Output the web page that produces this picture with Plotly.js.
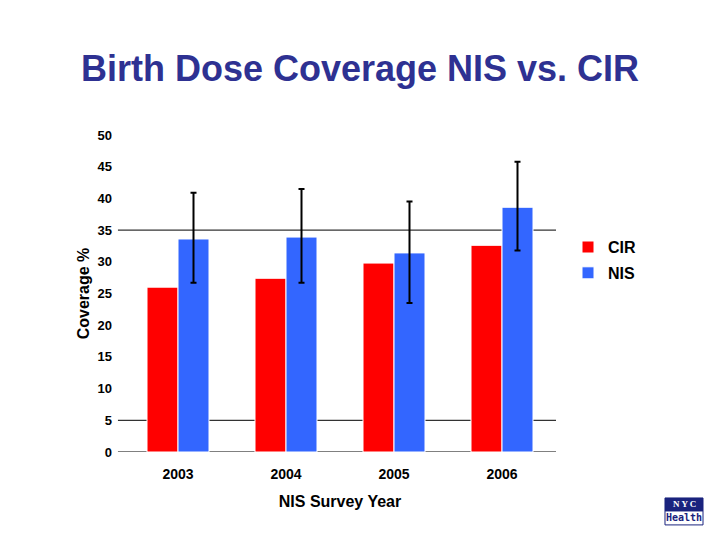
<!DOCTYPE html>
<html>
<head>
<meta charset="utf-8">
<script src="https://cdn.plot.ly/plotly-3.0.1.min.js"></script>
<style>html,body{margin:0;padding:0;background:#fff;}#chart{width:720px;height:540px;}</style>
</head>
<body>
<div id="chart"></div>
<script>
var years = ['2003', '2004', '2005', '2006'];
var cirValues = [26.0, 27.4, 29.8, 32.6];
var nisValues = [33.6, 33.9, 31.4, 38.6];
var nisUpper = [40.9, 41.5, 39.5, 45.8];
var nisLower = [26.7, 26.7, 23.5, 31.8];
var ruleValues = [0, 5, 35];

var errPlus = nisValues.map(function (v, i) { return nisUpper[i] - v; });
var errMinus = nisValues.map(function (v, i) { return v - nisLower[i]; });

var FONT = 'Liberation Sans, Arial, sans-serif';

var traces = [
  {
    type: 'bar', name: 'CIR', x: years, y: cirValues, legendgroup: 'cir',
    marker: {color: '#ff0000', line: {color: '#ffffff', width: 1}},
    hoverinfo: 'y'
  },
  {
    type: 'bar', name: 'NIS', x: years, y: nisValues, legendgroup: 'nis',
    marker: {color: '#3366ff', line: {color: '#ffffff', width: 1}},
    error_y: {type: 'data', symmetric: false, array: errPlus, arrayminus: errMinus,
              color: '#000000', thickness: 2, width: 3},
    hoverinfo: 'y'
  }
];

var shapes = ruleValues.map(function (g) {
  return {type: 'line', xref: 'paper', yref: 'y', x0: -0.014, x1: 1, y0: g, y1: g,
          line: {color: '#000000', width: 1}, layer: 'below'};
});
// NYC Health logo
shapes.push({type: 'rect', xref: 'paper', yref: 'paper', x0: 1.2523, x1: 1.3403, y0: -0.186, y1: -0.145,
             fillcolor: '#1a237e', line: {color: '#1a237e', width: 1}});
shapes.push({type: 'rect', xref: 'paper', yref: 'paper', x0: 1.2523, x1: 1.3403, y0: -0.230, y1: -0.186,
             fillcolor: '#ffffff', line: {color: '#1a237e', width: 1}});

var layout = {
  width: 720, height: 540,
  margin: {l: 124, r: 164, t: 135, b: 88},
  paper_bgcolor: '#ffffff', plot_bgcolor: '#ffffff',
  font: {family: FONT, color: '#000000'},
  title: {text: 'Birth Dose Coverage NIS vs. CIR',
          font: {family: FONT, size: 36, color: '#2e3192', weight: 'bold'},
          x: 0.5, xref: 'container', xanchor: 'center', y: 0.874, yref: 'container', yanchor: 'middle'},
  barmode: 'group', bargap: 0.426, bargroupgap: 0,
  xaxis: {
    showgrid: false, showline: false, zeroline: false,
    ticks: '', tickfont: {family: FONT, size: 14, weight: 'bold'}, ticklabelstandoff: 12,
    title: {text: 'NIS Survey Year', font: {family: FONT, size: 16, weight: 'bold'}, standoff: 14}
  },
  yaxis: {
    range: [0, 50], dtick: 5, tick0: 0, showgrid: false, zeroline: false, showline: false,
    ticks: '', tickfont: {family: FONT, size: 13, weight: 'bold'}, ticklabelstandoff: 11,
    title: {text: 'Coverage %', font: {family: FONT, size: 16, weight: 'bold'}, standoff: 3}
  },
  legend: {x: 1.0278, y: 0.70, xanchor: 'left', yanchor: 'top', tracegroupgap: 2,
           font: {family: FONT, size: 16, weight: 'bold'}, bgcolor: 'rgba(0,0,0,0)'},
  shapes: shapes,
  annotations: [
    {xref: 'paper', yref: 'paper', x: 1.2963, y: -0.1655, text: '<b>N Y C</b>', showarrow: false,
     font: {family: 'Liberation Serif, serif', size: 9, color: '#ffffff'}, xanchor: 'center', yanchor: 'middle'},
    {xref: 'paper', yref: 'paper', x: 1.2963, y: -0.208, text: '<b>Health</b>', showarrow: false,
     font: {family: 'DejaVu Sans Mono, monospace', size: 10, color: '#1a237e'}, xanchor: 'center', yanchor: 'middle'}
  ],
  showlegend: true
};

Plotly.newPlot('chart', traces, layout, {displayModeBar: false, staticPlot: true});
</script>
</body>
</html>
